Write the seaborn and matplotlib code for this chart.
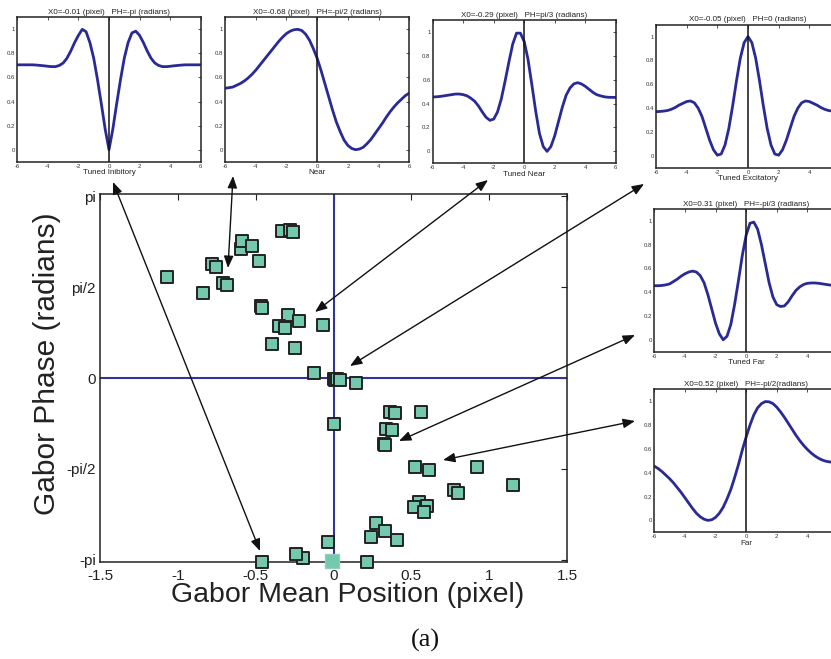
import numpy as np
import pandas as pd
import matplotlib
matplotlib.use("Agg")
import matplotlib.pyplot as plt
import seaborn as sns
from matplotlib.patches import FancyArrowPatch

# ---------------- data ----------------
# scatter: Gabor mean position (pixel) vs Gabor phase (radians)
pos_x = [-1.07, -0.84, -0.78, -0.755, -0.71, -0.686, -0.596, -0.588, -0.523, -0.478,
         -0.468, -0.462, -0.329, -0.279, -0.258, -0.292, -0.348, -0.31, -0.22, -0.07,
         -0.397, -0.247, -0.125,
         0.0, 0.01, 0.02, 0.04, 0.143,
         0.363, 0.395, 0.562, 0.0, 0.335, 0.374, 0.322, 0.33,
         0.523, 0.613, 0.92, 1.155, 0.774, 0.80,
         0.549, 0.515, 0.60, 0.583, 0.271, 0.331, 0.241, 0.41,
         -0.035, 0.215, -0.198, -0.241, -0.459]
phase_y = [1.75, 1.46, 1.96, 1.91, 1.64, 1.61, 2.23, 2.37, 2.28, 2.02,
           1.24, 1.21, 2.54, 2.55, 2.52, 1.09, 0.89, 0.86, 0.98, 0.91,
           0.59, 0.51, 0.09,
           -0.01, -0.03, -0.01, -0.03, -0.09,
           -0.59, -0.60, -0.59, -0.79, -0.88, -0.90, -1.14, -1.16,
           -1.53, -1.58, -1.54, -1.85, -1.94, -1.98,
           -2.14, -2.23, -2.21, -2.31, -2.50, -2.64, -2.74, -2.80,
           -2.83, -3.18, -3.10, -3.04, -3.18]
faint_x = [-0.01]
faint_y = [-3.16]

xtick_vals = [-1.5, -1.0, -0.5, 0.0, 0.5, 1.0, 1.5]
xtick_labels = ["-1.5", "-1", "-0.5", "0", "0.5", "1", "1.5"]
ytick_vals = [-np.pi, -np.pi / 2, 0.0, np.pi / 2, np.pi]
ytick_labels = ["-pi", "-pi/2", "0", "pi/2", "pi"]

# inset tuning curves (at 0.25 px steps)
disparity = [-6.0, -5.75, -5.5, -5.25, -5.0, -4.75, -4.5, -4.25, -4.0, -3.75, -3.5, -3.25,
             -3.0, -2.75, -2.5, -2.25, -2.0, -1.75, -1.5, -1.25, -1.0, -0.75, -0.5, -0.25,
             0.0, 0.25, 0.5, 0.75, 1.0, 1.25, 1.5, 1.75, 2.0, 2.25, 2.5, 2.75,
             3.0, 3.25, 3.5, 3.75, 4.0, 4.25, 4.5, 4.75, 5.0, 5.25, 5.5, 5.75, 6.0]
tuned_inhibitory = [0.705, 0.705, 0.705, 0.705, 0.705, 0.703, 0.70, 0.697, 0.693, 0.69, 0.69, 0.70,
                    0.72, 0.76, 0.82, 0.89, 0.95, 1.0, 0.98, 0.89, 0.76, 0.58, 0.38, 0.17,
                    0.0, 0.17, 0.38, 0.58, 0.76, 0.89, 0.97, 0.985, 0.95, 0.89, 0.82, 0.76,
                    0.72, 0.70, 0.69, 0.69, 0.693, 0.697, 0.70, 0.703, 0.705, 0.705, 0.705, 0.705, 0.705]
near = [0.51, 0.515, 0.52, 0.535, 0.55, 0.57, 0.595, 0.625, 0.66, 0.70, 0.74, 0.78,
        0.82, 0.86, 0.90, 0.935, 0.965, 0.985, 0.997, 1.0, 0.99, 0.96, 0.91, 0.84,
        0.76, 0.66, 0.55, 0.44, 0.33, 0.23, 0.15, 0.08, 0.035, 0.01, 0.0, 0.005,
        0.02, 0.05, 0.085, 0.13, 0.175, 0.22, 0.27, 0.315, 0.355, 0.39, 0.42, 0.45, 0.47]
tuned_near = [0.455, 0.457, 0.46, 0.465, 0.47, 0.475, 0.48, 0.48, 0.475, 0.465, 0.445, 0.42,
              0.38, 0.33, 0.285, 0.26, 0.27, 0.33, 0.44, 0.59, 0.75, 0.90, 0.99, 0.99,
              0.92, 0.77, 0.56, 0.34, 0.15, 0.04, 0.0, 0.04, 0.13, 0.25, 0.37, 0.47,
              0.53, 0.565, 0.575, 0.565, 0.545, 0.52, 0.495, 0.475, 0.465, 0.457, 0.453, 0.452, 0.452]
tuned_excitatory = [0.37, 0.372, 0.375, 0.38, 0.39, 0.405, 0.425, 0.44, 0.455, 0.46, 0.445, 0.40,
                    0.33, 0.23, 0.13, 0.05, 0.005, 0.015, 0.09, 0.23, 0.42, 0.63, 0.82, 0.95,
                    1.0, 0.95, 0.82, 0.63, 0.42, 0.23, 0.09, 0.015, 0.005, 0.05, 0.13, 0.23,
                    0.33, 0.40, 0.445, 0.46, 0.455, 0.44, 0.425, 0.405, 0.39, 0.38, 0.375, 0.372, 0.37]
tuned_far = [0.455, 0.455, 0.457, 0.462, 0.47, 0.49, 0.51, 0.535, 0.555, 0.57, 0.578, 0.57,
             0.54, 0.48, 0.38, 0.26, 0.14, 0.05, 0.0, 0.03, 0.13, 0.30, 0.50, 0.71,
             0.88, 0.98, 0.99, 0.93, 0.80, 0.64, 0.48, 0.36, 0.295, 0.28, 0.285, 0.32,
             0.37, 0.415, 0.445, 0.465, 0.475, 0.478, 0.478, 0.475, 0.47, 0.465, 0.46, 0.457, 0.455]
far = [0.455, 0.435, 0.41, 0.38, 0.35, 0.315, 0.275, 0.235, 0.19, 0.145, 0.10, 0.06,
       0.03, 0.01, 0.0, 0.005, 0.025, 0.06, 0.11, 0.18, 0.26, 0.36, 0.47, 0.59,
       0.70, 0.80, 0.885, 0.945, 0.98, 0.997, 0.995, 0.98, 0.95, 0.91, 0.865, 0.815,
       0.765, 0.715, 0.67, 0.63, 0.595, 0.565, 0.54, 0.52, 0.505, 0.495, 0.49, 0.485, 0.48]

inset_titles = ["X0=-0.01 (pixel)   PH=-pi (radians)",
                "X0=-0.68 (pixel)   PH=-pi/2 (radians)",
                "X0=-0.29 (pixel)   PH=pi/3 (radians)",
                "X0=-0.05 (pixel)   PH=0 (radians)",
                "X0=0.31 (pixel)   PH=-pi/3 (radians)",
                "X0=0.52 (pixel)   PH=-pi/2(radians)"]
inset_xlabels = ["Tuned Inibitory", "Near", "Tuned Near", "Tuned Excitatory", "Tuned Far", "Far"]
inset_curves = [tuned_inhibitory, near, tuned_near, tuned_excitatory, tuned_far, far]
inset_xticks = [-6, -4, -2, 0, 2, 4, 6]
inset_yticks = [0, 0.2, 0.4, 0.6, 0.8, 1.0]
inset_yticklabels = ["0", "0.2", "0.4", "0.6", "0.8", "1"]

# ---------------- style / layout ----------------
sns.set_theme(style="white")
plt.rcParams["font.family"] = ["Liberation Sans", "DejaVu Sans"]

W, H = 831, 659
fig = plt.figure(figsize=(W / 100, H / 100), dpi=100)
fig.patch.set_facecolor("white")


def px_rect(l, t, r, b):
    return [l / W, 1 - b / H, (r - l) / W, (b - t) / H]


line_blue = "#33339c"
curve_blue = "#2a2a96"
face = "#74c8ae"

ax = fig.add_axes(px_rect(100, 194, 567, 562))
ax.axvline(0, color=line_blue, lw=1.5, zorder=1)
ax.axhline(0, color=line_blue, lw=1.5, zorder=1)
df = pd.DataFrame({"pos": pos_x, "phase": phase_y})
sns.scatterplot(data=df, x="pos", y="phase", marker="s", s=85, color=face,
                edgecolor="#222222", linewidth=1.4, ax=ax, zorder=3, clip_on=False)
sns.scatterplot(x=faint_x, y=faint_y, marker="s", s=115, color=face,
                edgecolor="#8fcfbf", linewidth=1.0, ax=ax, zorder=3, clip_on=False)
ax.set_xlim(-1.5, 1.5)
ax.set_ylim(-np.pi - 0.035, np.pi + 0.035)
ax.set_xticks(xtick_vals)
ax.set_xticklabels(xtick_labels)
ax.set_yticks(ytick_vals)
ax.set_yticklabels(ytick_labels)
ax.tick_params(direction="in", top=True, right=True, length=4, width=0.8,
               labelsize=11, colors="#222222")
ax.tick_params(axis="x", pad=5)
ax.tick_params(axis="y", pad=3)
ax.set_xlabel("")
ax.set_ylabel("")
for s in ax.spines.values():
    s.set_color("#222222")
    s.set_linewidth(1.1)

fig.text(348 / W, 1 - 595 / H, "Gabor Mean Position (pixel)", fontsize=20.5,
         ha="center", va="center", color="#222222")
fig.text(47.5 / W, 1 - 364 / H, "Gabor Phase (radians)", fontsize=21.5, rotation=90,
         ha="center", va="center", color="#222222")
fig.text(425 / W, 1 - 640 / H, "(a)", fontsize=19, ha="center", va="center",
         family=["Liberation Serif", "DejaVu Serif"], color="#111111")

inset_rects = [(17.3, 17.3, 200.7, 161.7),
               (225, 17.3, 409.3, 161.7),
               (432.7, 20, 615.7, 163.3),
               (656, 24.7, 840, 167.7),
               (654.3, 209, 838, 351.7),
               (654.3, 389.3, 838, 532.3)]

for rect, curve, title, xl in zip(inset_rects, inset_curves, inset_titles, inset_xlabels):
    iax = fig.add_axes(px_rect(*rect))
    sns.lineplot(x=disparity, y=curve, ax=iax, color=curve_blue, lw=2.0, sort=False,
                 solid_joinstyle="round", solid_capstyle="round")
    iax.axvline(0, color="#111111", lw=1.1)
    iax.set_xlim(-6, 6)
    iax.set_ylim(-0.1, 1.1)
    iax.set_xticks(inset_xticks)
    iax.set_xticklabels([str(t) for t in inset_xticks])
    iax.set_yticks(inset_yticks)
    iax.set_yticklabels(inset_yticklabels)
    iax.tick_params(direction="in", top=True, right=True, length=2.5, width=0.6,
                    labelsize=4.3, pad=1.5, colors="#333333")
    iax.set_title(title, fontsize=5.8, pad=2.5, color="#222222")
    iax.set_xlabel(xl, fontsize=5.8, labelpad=0.5, color="#222222")
    iax.set_ylabel("")
    for s in iax.spines.values():
        s.set_color("#222222")
        s.set_linewidth(1.1)

arrows_px = [((113, 182), (260, 551)),
             ((233, 176), (228, 268)),
             ((488, 180), (315, 312)),
             ((644, 184), (350, 366)),
             ((635, 335), (399, 441)),
             ((635, 421), (443, 460))]
for (x1, y1), (x2, y2) in arrows_px:
    arr = FancyArrowPatch((x1 / W, 1 - y1 / H), (x2 / W, 1 - y2 / H),
                          transform=fig.transFigure,
                          arrowstyle="<|-|>,head_length=0.55,head_width=0.22",
                          mutation_scale=13, lw=1.0, color="#111111",
                          shrinkA=0, shrinkB=0)
    fig.add_artist(arr)

fig.savefig("out.png", dpi=100)
